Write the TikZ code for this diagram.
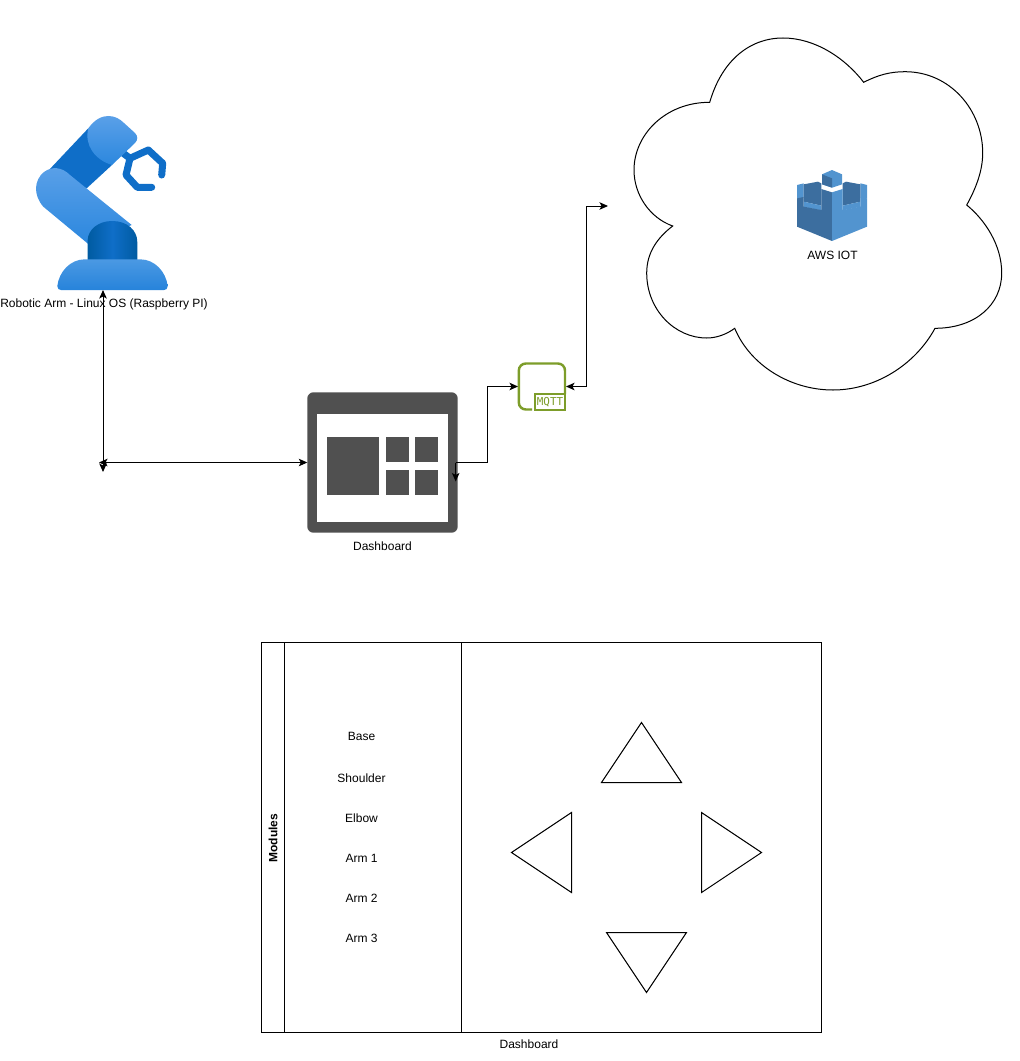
\documentclass[tikz,border=0pt]{standalone}
\usepackage{fontspec}
\setmainfont{Liberation Sans}
\newfontfamily\mqttfont{DejaVu Sans Mono}
\usetikzlibrary{arrows.meta,calc}
\definecolor{armlight}{HTML}{5AA0E8}
\definecolor{armmid}{HTML}{2B87DE}
\definecolor{armdark}{HTML}{0F6EC8}
\definecolor{armdeep}{HTML}{005BA1}
\definecolor{awslight}{HTML}{5294CF}
\definecolor{awsdark}{HTML}{3C6E9F}
\definecolor{dashgrey}{HTML}{505050}
\definecolor{mqttgreen}{HTML}{7D9D2A}
\tikzset{
  txt/.style={font=\fontsize{6.83}{8}\selectfont,inner sep=0pt},
  box/.style={inner sep=0pt,outer sep=0pt},
  wire/.style={line width=0.57pt,{Stealth[length=1.7mm,width=1.5mm,inset=0.4mm]}-{Stealth[length=1.7mm,width=1.5mm,inset=0.4mm]}},
  oneway/.style={line width=0.57pt,-{Stealth[length=1.7mm,width=1.5mm,inset=0.4mm]}},
  outline/.style={line width=0.57pt}
}
\begin{document}
\begin{tikzpicture}[x=0.02cm,y=-0.02cm]
  \def\px{0.02cm} % one pixel of the reference
  \useasboundingbox (0,0) rectangle (1019,1061);
  % robot arm
  \fill[armdark] (48.3,170.7) -- (88.3,128.3) -- (112,165) -- (86.7,188.3) -- cycle;
  \draw[armdark,line width=4pt,line join=round]
    (123.3,153.3) -- (130,158.3) -- (148.3,150) -- (162.7,163.3);
  \draw[armdark,line width=4pt,line join=round,line cap=round]
    (162.7,163.3) -- (161.7,175);
  \draw[armdark,line width=4pt,line join=round,line cap=round]
    (130,158.3) -- (126,175) -- (137.3,187.3) -- (151.7,187.3);
  \shade[top color=armlight,bottom color=armmid] (88.3,128.3)
    .. controls (95,119) and (102,116) .. (108.3,116)
    .. controls (115,116) and (120,119) .. (124,123) -- (135,133)
    .. controls (138,136) and (138,140) .. (135,143) -- (112,165)
    .. controls (95,160) and (84,145) .. (88.3,128.3) -- cycle;
  \shade[top color=armlight,bottom color=armmid] (70,175) -- (131.7,225) -- (88.3,244) -- (43.3,206.7)
    .. controls (33,195) and (34,180) .. (44,172)
    .. controls (52,166) and (62,167) .. (70,175) -- cycle;
  \shade[left color=armdeep,right color=armdeep,middle color=armdark] (87.7,260) -- (87.7,240)
    .. controls (88,230) and (98,221) .. (112,221)
    .. controls (127,221) and (137.3,230) .. (137.3,242) -- (137.3,260) -- cycle;
  \shade[top color=armmid!85!white,bottom color=armmid!85!armdark] (57.3,286)
    .. controls (59,272) and (70,259.3) .. (85,259.3) -- (140,259.3)
    .. controls (155,259.3) and (166,272) .. (167.7,286)
    .. controls (167.7,289) and (166,290) .. (164,290) -- (61,290)
    .. controls (59,290) and (57.3,289) .. (57.3,286) -- cycle;
  \node[box,minimum width=131*\px,minimum height=175*\px] (robot) at (103,202.5) {};
  \node[txt] (robotlabel) at (104,304.5) {Robotic Arm - Linux OS (Raspberry PI)};
  % cloud
  \draw[outline] (709.7,102.3) .. controls (722,60) and (750,38) .. (783,38)
    .. controls (815,38) and (845,58) .. (863.7,82.3)
    .. controls (878,75) and (890,71.7) .. (905,71.7)
    .. controls (950,71.7) and (982.7,110) .. (982.7,153)
    .. controls (982.7,172) and (975,190) .. (966.7,205)
    .. controls (985,220) and (1001.7,245) .. (1001.7,273)
    .. controls (1001.7,305) and (975,328.3) .. (935,328.3)
    .. controls (915,365) and (875,390) .. (833,390)
    .. controls (790,390) and (750,365) .. (734.7,328.3)
    .. controls (727,334) and (717,338) .. (706.7,338)
    .. controls (675,338) and (646.7,310) .. (646.7,273)
    .. controls (646.7,253) and (657,238) .. (672.7,226)
    .. controls (650,218) and (634,195) .. (634,170)
    .. controls (634,135) and (665,102.3) .. (709.7,102.3) -- cycle;
  % aws icon
  \begin{scope}[shift={(792,165)},x=0.02cm/3,y=-0.02cm/3]
    \fill[awslight] (15,60) -- (35,55) -- (35,98) -- (15,100) -- cycle;
    \fill[awslight] (225,60) -- (205,55) -- (205,98) -- (225,100) -- cycle;
    \fill[awsdark] (35,58) -- (78,50) -- (88,55) -- (88,122) -- (35,110) -- cycle;
    \fill[awsdark] (205,58) -- (162,50) -- (152,55) -- (152,122) -- (205,110) -- cycle;
    \fill[awslight] (35,110) -- (88,122) -- (88,136) -- (35,126) -- cycle;
    \fill[awslight] (205,110) -- (152,122) -- (152,136) -- (205,126) -- cycle;
    \fill[awsdark] (15,100) -- (35,96) -- (35,125) -- (88,135) -- (88,72) -- (120,82) -- (120,228) -- (15,185) -- cycle;
    \fill[awslight] (225,100) -- (205,96) -- (205,125) -- (152,135) -- (152,72) -- (120,82) -- (120,228) -- (225,185) -- cycle;
    \fill[awslight] (90,28) -- (120,15) -- (150,28) -- (150,58) -- (120,68) -- (90,58) -- cycle;
    \fill[awsdark] (90,28) -- (120,40) -- (120,68) -- (90,58) -- cycle;
  \end{scope}
  \node[txt] (awslabel) at (832.5,255) {AWS IOT};
  \coordinate (cloudin) at (608,206);
  % dashboard icon
  \node[box,fill=dashgrey,rounded corners=3.5pt,minimum width=150.4*\px,minimum height=140.4*\px] (dash) at (382.5,462.5) {};
  \fill[white] (316.7,414.3) rectangle (448,521.7);
  \fill[dashgrey] (326.7,436.7) rectangle (379,495.3);
  \foreach \bx in {386,415} {
    \foreach \by in {436.7,470} {
      \fill[dashgrey] (\bx,\by) rectangle ++(22.7,25.3);
    }
  }
  \node[txt] (dashlabel) at (382.5,546) {Dashboard};
  % mqtt icon
  \node[box,minimum width=48*\px,minimum height=49*\px] (mqtt) at (542,386.5) {};
  \draw[mqttgreen,line width=1.4pt,rounded corners=4pt] (532,409.5) -- (518.8,409.5) -- (518.8,363.5) -- (565,363.5) -- (565,394);
  \node[box,draw=mqttgreen,line width=1.4pt,fill=white,text=mqttgreen,minimum width=30*\px,minimum height=15.5*\px,font=\mqttfont\fontsize{6.2}{7}\selectfont] (mqtttag) at (550,402) {MQTT};
  % connectors
  \coordinate (armfoot) at (103,472);
  \coordinate (armjoin) at (99,462.5);
  \coordinate (dashport) at ($(dash.east)+(-2,0)$);
  \draw[wire] (robot.south) -- (armfoot);
  \draw[wire] (armjoin) -- (dash.west);
  \draw[oneway] (dashport) -- ++(0,19);
  \draw[oneway] (dashport) -- ++(32,0) |- (mqtt.west);
  \draw[wire] (mqtt.east) -- ++(20,0) |- (cloudin);
  % dashboard layout
  \draw[outline] (261.5,642.5) rectangle (821.5,1032.5);
  \draw[outline] (284.5,642.5) -- (284.5,1032.5);
  \draw[outline] (461.5,642.5) -- (461.5,1032.5);
  \node[txt,font=\fontsize{6.83}{8}\selectfont\bfseries,rotate=90] (modules) at (273,838) {Modules};
  \node[txt] (base) at (361.5,736) {Base};
  \node[txt] (shoulder) at (361.5,778.5) {Shoulder};
  \node[txt] (elbow) at (361.5,818.5) {Elbow};
  \node[txt] (armone) at (361.5,858.5) {Arm 1};
  \node[txt] (armtwo) at (361.5,898.5) {Arm 2};
  \node[txt] (armthree) at (361.5,938.5) {Arm 3};
  % direction pad
  \draw[outline] (641.5,722.5) -- (681.5,782.5) -- (601.5,782.5) -- cycle;
  \draw[outline] (571.5,812.5) -- (571.5,892.5) -- (511.5,852.5) -- cycle;
  \draw[outline] (701.5,812.5) -- (761.5,852.5) -- (701.5,892.5) -- cycle;
  \draw[outline] (606.5,932.5) -- (686.5,932.5) -- (646.5,992.5) -- cycle;
  \node[txt] (layoutlabel) at (529,1044.5) {Dashboard};
\end{tikzpicture}
\end{document}
